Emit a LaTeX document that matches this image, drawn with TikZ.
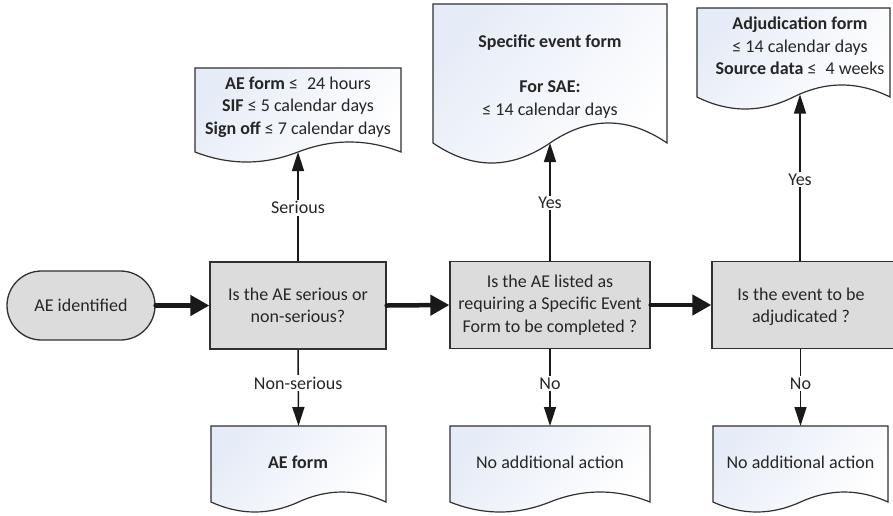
\documentclass[tikz,border=0pt]{standalone}
\usepackage{fontspec}
\setmainfont{Carlito}
\usetikzlibrary{arrows.meta,shapes.misc}
\definecolor{boxgray}{HTML}{DCDCDD}
\definecolor{linegray}{HTML}{303030}
\definecolor{docblue}{HTML}{E6ECF7}
\definecolor{txt}{HTML}{262626}
% #1 name, #2 x1, #3 x2, #4 ytop, #5 ybottom, #6 wave amplitude
\newcommand\docshape[6]{%
  \pgfmathsetmacro\dxm{(#2+#3)/2}%
  \pgfmathsetmacro\dw{#3-#2}%
  \path[docbox] (#2,#4) -- (#3,#4) -- (#3,#5)
    .. controls ({#3-\dw/6},{#5-4*#6/3}) and ({#3-\dw/3},{#5-4*#6/3}) .. (\dxm,#5)
    .. controls ({\dxm-\dw/6},{#5+4*#6/3}) and ({\dxm-\dw/3},{#5+4*#6/3}) .. (#2,#5) -- cycle;
  \coordinate (#1-w) at (\dxm,#5);
  \coordinate (#1-n) at (\dxm,#4);
}
\begin{document}
\begin{tikzpicture}[x=1pt,y=-1pt,
  every node/.style={font=\fontsize{18}{22.5}\selectfont, text=txt},
  qbox/.style={draw=linegray, line width=1.3pt, fill=boxgray, align=center, inner sep=0pt, minimum height=87pt},
  startbox/.style={draw=linegray, line width=1.3pt, fill=boxgray, rounded rectangle, minimum width=148pt, minimum height=69pt, inner sep=0pt},
  docbox/.style={draw=linegray, line width=1.2pt, top color=docblue, bottom color=white, shading angle=50},
  doctext/.style={align=center, inner sep=0pt},
  thk/.style={line width=4.5pt, draw=black!90, line cap=round, -{Triangle[length=19pt,width=20pt]}},
  thn/.style={line width=1.5pt, draw=black!90, -{Triangle[length=19pt,width=12pt]}},
  lbl/.style={fill=white, inner sep=1.5pt}]
\useasboundingbox (0,0) rectangle (893,515);
\clip (0,0) rectangle (893,515);

% documents
\docshape{d1}{195}{401}{68}{152}{10}
\docshape{d2}{433}{667}{4}{143}{20}
\docshape{d3}{697}{890}{8}{97}{12}
\docshape{d4}{211}{386}{426}{502}{10}
\docshape{d5}{450}{650}{426}{502}{10}
\docshape{d6}{713}{888}{426}{502}{10}
\coordinate (d3a) at (800,94.5);

\node[doctext] (t1) at (298,107) {\textbf{AE form} ≤\enspace 24 hours\\ \textbf{SIF} ≤ 5 calendar days\\ \textbf{Sign off} ≤ 7 calendar days};
\node[doctext] (t2) at (550,76.5) {\textbf{Specific event form}\\ \mbox{}\\ \textbf{For SAE:}\\ ≤ 14 calendar days};
\node[doctext] (t3) at (800,46) {\textbf{Adjudication form}\\ ≤ 14 calendar days\\ \textbf{Source data} ≤\enspace 4 weeks};
\node[doctext] (t4) at (298,462) {\textbf{AE form}};
\node[doctext] (t5) at (550,462) {No additional action};
\node[doctext] (t6) at (800.5,462) {No additional action};

% main row
\node[startbox] (s) at (81,305.5) {AE identified};
\node[qbox, minimum width=176pt] (b1) at (298,305.5) {Is the AE serious or\\non-serious?};
\node[qbox, minimum width=200pt] (b2) at (550,305) {Is the AE listed as\\requiring a Specific Event\\Form to be completed ?};
\node[qbox, minimum width=188pt] (b3) at (806,305) {};
\node[doctext] (b3t) at (801,307) {Is the event to be\\adjudicated ?};

\draw[thk] (s.east) -- (b1.west);
\draw[thk] (b1.east) -- (b2.west);
\draw[thk] (b2.east) -- (b3.west);

\draw[thn] (b1.north) -- (d1-w) node[lbl, pos=0.49] {Serious};
\draw[thn] (b2.north) -- (d2-w) node[lbl, pos=0.49] {Yes};
\draw[thn] (b3.north -| d3a) -- (d3a) node[lbl, pos=0.49] {Yes};

\draw[thn] (b1.south) -- (d4-n) node[lbl, pos=0.44] {Non-serious};
\draw[thn] (b2.south) -- (d5-n) node[lbl, pos=0.45] {No};
\draw[thn] (b3.south -| d6-n) -- (d6-n) node[lbl, pos=0.45] {No};
\end{tikzpicture}
\end{document}
